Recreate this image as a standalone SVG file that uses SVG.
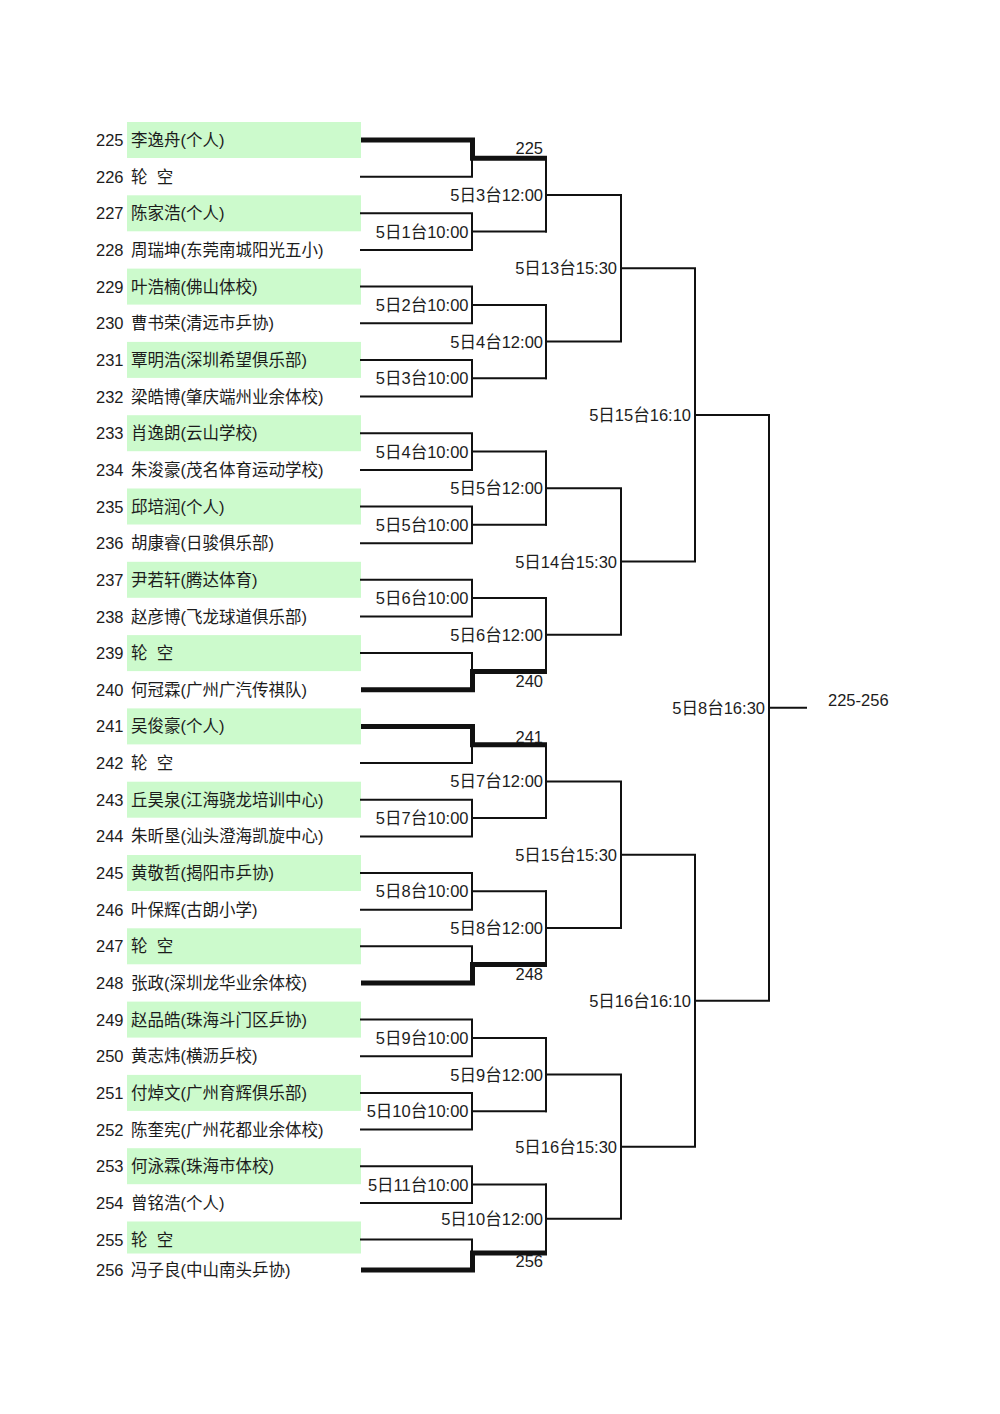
<svg xmlns="http://www.w3.org/2000/svg" width="1000" height="1414" viewBox="0 0 1000 1414">
<style>
text{font-family:"Liberation Sans","Noto Sans CJK SC",sans-serif;font-size:16.5px;fill:#1c1c1c}
.e{text-anchor:end}
.bx{fill:#ccfacc}
.t{fill:none;stroke:#111;stroke-width:2;stroke-linecap:square}
.k{fill:none;stroke:#111;stroke-width:5;stroke-linejoin:miter}
.sp{white-space:pre}
</style>
<rect width="1000" height="1414" fill="#fff"/>
<g id="players">
<g id="p225"><rect class="bx" x="127" y="122" width="234" height="36"/><text x="96" y="146">225</text><text x="131" y="146">李逸舟(个人)</text></g>
<g id="p226"><text x="96" y="182.7">226</text><text x="131" y="182.7" class="sp" xml:space="preserve">轮  空</text></g>
<g id="p227"><rect class="bx" x="127" y="195.3" width="234" height="36"/><text x="96" y="219.3">227</text><text x="131" y="219.3">陈家浩(个人)</text></g>
<g id="p228"><text x="96" y="256">228</text><text x="131" y="256">周瑞坤(东莞南城阳光五小)</text></g>
<g id="p229"><rect class="bx" x="127" y="268.6" width="234" height="36"/><text x="96" y="292.6">229</text><text x="131" y="292.6">叶浩楠(佛山体校)</text></g>
<g id="p230"><text x="96" y="329.3">230</text><text x="131" y="329.3">曹书荣(清远市乒协)</text></g>
<g id="p231"><rect class="bx" x="127" y="341.9" width="234" height="36"/><text x="96" y="365.9">231</text><text x="131" y="365.9">覃明浩(深圳希望俱乐部)</text></g>
<g id="p232"><text x="96" y="402.6">232</text><text x="131" y="402.6">梁皓博(肇庆端州业余体校)</text></g>
<g id="p233"><rect class="bx" x="127" y="415.2" width="234" height="36"/><text x="96" y="439.2">233</text><text x="131" y="439.2">肖逸朗(云山学校)</text></g>
<g id="p234"><text x="96" y="475.9">234</text><text x="131" y="475.9">朱浚豪(茂名体育运动学校)</text></g>
<g id="p235"><rect class="bx" x="127" y="488.5" width="234" height="36"/><text x="96" y="512.5">235</text><text x="131" y="512.5">邱培润(个人)</text></g>
<g id="p236"><text x="96" y="549.2">236</text><text x="131" y="549.2">胡康睿(日骏俱乐部)</text></g>
<g id="p237"><rect class="bx" x="127" y="561.8" width="234" height="36"/><text x="96" y="585.8">237</text><text x="131" y="585.8">尹若轩(腾达体育)</text></g>
<g id="p238"><text x="96" y="622.5">238</text><text x="131" y="622.5">赵彦博(飞龙球道俱乐部)</text></g>
<g id="p239"><rect class="bx" x="127" y="635.1" width="234" height="36"/><text x="96" y="659.1">239</text><text x="131" y="659.1" class="sp" xml:space="preserve">轮  空</text></g>
<g id="p240"><text x="96" y="695.8">240</text><text x="131" y="695.8">何冠霖(广州广汽传祺队)</text></g>
<g id="p241"><rect class="bx" x="127" y="708.4" width="234" height="36"/><text x="96" y="732.4">241</text><text x="131" y="732.4">吴俊豪(个人)</text></g>
<g id="p242"><text x="96" y="769.1">242</text><text x="131" y="769.1" class="sp" xml:space="preserve">轮  空</text></g>
<g id="p243"><rect class="bx" x="127" y="781.7" width="234" height="36"/><text x="96" y="805.7">243</text><text x="131" y="805.7">丘昊泉(江海骁龙培训中心)</text></g>
<g id="p244"><text x="96" y="842.4">244</text><text x="131" y="842.4">朱昕垦(汕头澄海凯旋中心)</text></g>
<g id="p245"><rect class="bx" x="127" y="855" width="234" height="36"/><text x="96" y="879">245</text><text x="131" y="879">黄敬哲(揭阳市乒协)</text></g>
<g id="p246"><text x="96" y="915.7">246</text><text x="131" y="915.7">叶保辉(古朗小学)</text></g>
<g id="p247"><rect class="bx" x="127" y="928.3" width="234" height="36"/><text x="96" y="952.3">247</text><text x="131" y="952.3" class="sp" xml:space="preserve">轮  空</text></g>
<g id="p248"><text x="96" y="989">248</text><text x="131" y="989">张政(深圳龙华业余体校)</text></g>
<g id="p249"><rect class="bx" x="127" y="1001.6" width="234" height="36"/><text x="96" y="1025.6">249</text><text x="131" y="1025.6">赵品皓(珠海斗门区乒协)</text></g>
<g id="p250"><text x="96" y="1062.3">250</text><text x="131" y="1062.3">黄志炜(横沥乒校)</text></g>
<g id="p251"><rect class="bx" x="127" y="1074.9" width="234" height="36"/><text x="96" y="1098.9">251</text><text x="131" y="1098.9">付焯文(广州育辉俱乐部)</text></g>
<g id="p252"><text x="96" y="1135.6">252</text><text x="131" y="1135.6">陈奎宪(广州花都业余体校)</text></g>
<g id="p253"><rect class="bx" x="127" y="1148.2" width="234" height="36"/><text x="96" y="1172.2">253</text><text x="131" y="1172.2">何泳霖(珠海市体校)</text></g>
<g id="p254"><text x="96" y="1208.9">254</text><text x="131" y="1208.9">曾铭浩(个人)</text></g>
<g id="p255"><rect class="bx" x="127" y="1221.5" width="234" height="32"/><text x="96" y="1245.5">255</text><text x="131" y="1245.5" class="sp" xml:space="preserve">轮  空</text></g>
<g id="p256"><text x="96" y="1276">256</text><text x="131" y="1276">冯子良(中山南头乒协)</text></g>
</g>
<g id="connectors">
<path class="t" d="M361 213.3H472V250H361M472 231.6H546
M361 286.6H472V323.3H361M472 304.9H546
M361 359.9H472V396.6H361M472 378.2H546
M361 433.2H472V469.9H361M472 451.5H546
M361 506.5H472V543.2H361M472 524.8H546
M361 579.8H472V616.5H361M472 598.1H546
M361 799.7H472V836.4H361M472 818H546
M361 873H472V909.7H361M472 891.3H546
M361 1019.6H472V1056.3H361M472 1037.9H546
M361 1092.9H472V1129.6H361M472 1111.2H546
M361 1166.2H472V1202.9H361M472 1184.5H546
M361 176.7H472V158.3
M361 653.1H472V671.4
M361 763.1H472V744.7
M361 946.3H472V964.6
M361 1239.5H472V1253"/>
<path class="k" d="M361 140H472.5V158.3H547
M361 689.8H472.5V671.4H547
M361 726.4H472.5V744.7H547
M361 983H472.5V964.6H547
M361 1270H472.5V1253H547"/>
<path class="t" d="M546 158.3V231.6M546 195H621
M546 304.9V378.2M546 341.6H621
M546 451.5V524.8M546 488.2H621
M546 598.1V671.4M546 634.8H621
M546 744.7V818M546 781.4H621
M546 891.3V964.6M546 928H621
M546 1037.9V1111.2M546 1074.6H621
M546 1184.5V1253M546 1218.8H621
M621 195V341.6M621 268.3H695
M621 488.2V634.8M621 561.5H695
M621 781.4V928M621 854.7H695
M621 1074.6V1218.8M621 1146.7H695
M695 268.3V561.5M695 414.9H769
M695 854.7V1146.7M695 1000.7H769
M769 414.9V1000.7M769 707.8H806"/>
</g>
<g id="match-labels">
<text class="e" x="468.5" y="237.6">5日1台10:00</text>
<text class="e" x="468.5" y="310.9">5日2台10:00</text>
<text class="e" x="468.5" y="384.2">5日3台10:00</text>
<text class="e" x="468.5" y="457.5">5日4台10:00</text>
<text class="e" x="468.5" y="530.8">5日5台10:00</text>
<text class="e" x="468.5" y="604.1">5日6台10:00</text>
<text class="e" x="468.5" y="824">5日7台10:00</text>
<text class="e" x="468.5" y="897.3">5日8台10:00</text>
<text class="e" x="468.5" y="1043.9">5日9台10:00</text>
<text class="e" x="468.5" y="1117.2">5日10台10:00</text>
<text class="e" x="468.5" y="1190.5">5日11台10:00</text>
<text class="e" x="543" y="201">5日3台12:00</text>
<text class="e" x="543" y="347.6">5日4台12:00</text>
<text class="e" x="543" y="494.2">5日5台12:00</text>
<text class="e" x="543" y="640.8">5日6台12:00</text>
<text class="e" x="543" y="787.4">5日7台12:00</text>
<text class="e" x="543" y="934">5日8台12:00</text>
<text class="e" x="543" y="1080.6">5日9台12:00</text>
<text class="e" x="543" y="1224.8">5日10台12:00</text>
<text class="e" x="617" y="274.3">5日13台15:30</text>
<text class="e" x="617" y="567.5">5日14台15:30</text>
<text class="e" x="617" y="860.7">5日15台15:30</text>
<text class="e" x="617" y="1152.7">5日16台15:30</text>
<text class="e" x="691" y="420.9">5日15台16:10</text>
<text class="e" x="691" y="1006.7">5日16台16:10</text>
<text class="e" x="765" y="713.8">5日8台16:30</text>
<text class="e" x="543" y="154">225</text>
<text class="e" x="543" y="686.7">240</text>
<text class="e" x="543" y="742.7">241</text>
<text class="e" x="543" y="980.4">248</text>
<text class="e" x="543" y="1267.4">256</text>
<text x="828" y="705.7">225-256</text>
</g>
</svg>
